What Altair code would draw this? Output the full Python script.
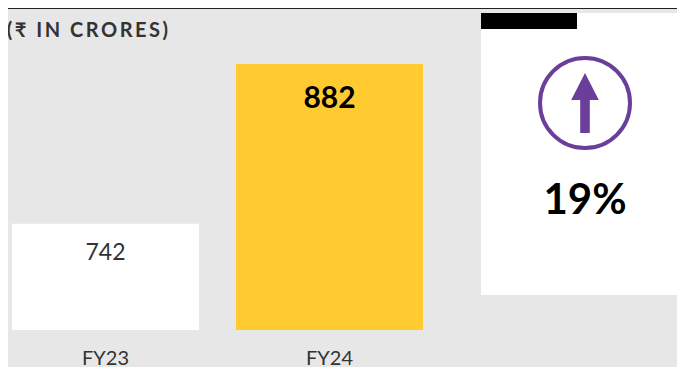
import altair as alt
import pandas as pd

years = ["FY23", "FY24"]
revenue = [742, 882]
bar_colors = ["#ffffff", "#ffcb31"]
value_colors = ["#333333", "#000000"]
heading = ["(\u2009₹\u2009 \u2009I\u2009N\u2009 \u2009C\u2009R\u2009O\u2009R\u2009E\u2009S\u2009)"]
growth = ["19%"]

FONT = "Lato"
base = 649
W = 669
H = 359

df = pd.DataFrame({"year": years, "revenue": revenue, "base": [base] * 2, "color": bar_colors})
xs = alt.Scale(domain=years, range=[-14.5, 433.5], paddingInner=37 / 224, paddingOuter=37 / 448)
ys = alt.Scale(domain=[base, 882 + (882 - base) * 56 / 266], range=[322, 0])
X = alt.X("year:N", scale=xs, axis=None)
Y = alt.Y("revenue:Q", scale=ys, axis=None)

rule = alt.Chart(pd.DataFrame({"a": [0]})).mark_rule(color="#222222", strokeWidth=1).encode(
    x=alt.value(0), x2=alt.value(W), y=alt.value(0.5))

bars = alt.Chart(df).mark_bar().encode(x=X, y=Y, y2="base:Q", color=alt.Color("color:N", scale=None))

label_23 = alt.Chart(df[df.year == "FY23"]).mark_text(font=FONT, fontSize=23, color=value_colors[0], fontWeight="normal", baseline="middle").encode(
    x=X, y=alt.value(245), text="revenue:Q")
label_24 = alt.Chart(df[df.year == "FY24"]).mark_text(font=FONT, fontSize=30, color=value_colors[1], fontWeight="bold", baseline="middle").encode(
    x=X, y=alt.value(91), text="revenue:Q")
cats = alt.Chart(df).mark_text(font=FONT, fontSize=20, color="#333333", baseline="middle").encode(
    x=X, y=alt.value(351), text="year:N")

title = alt.Chart(pd.DataFrame({"t": heading})).mark_text(font=FONT, fontSize=20, fontWeight="bold", color="#333333", align="right", baseline="middle").encode(
    x=alt.value(160), y=alt.value(23), text="t:N")

panel = alt.Chart(pd.DataFrame({"a": [0]})).mark_rect(color="#ffffff").encode(
    x=alt.value(473), x2=alt.value(W), y=alt.value(5), y2=alt.value(287))
tag = alt.Chart(pd.DataFrame({"a": [0]})).mark_rect(color="#000000").encode(
    x=alt.value(473), x2=alt.value(569), y=alt.value(5), y2=alt.value(21))
ring = alt.Chart(pd.DataFrame({"a": [0]})).mark_point(shape="circle", size=8100, filled=False, stroke="#6b3f99", strokeWidth=4, opacity=1).encode(
    x=alt.value(577), y=alt.value(95))
ARROW = "M0,-1 L0.46,-0.1 L0.16,-0.1 L0.16,1 L-0.16,1 L-0.16,-0.1 L-0.46,-0.1 Z"
arrow = alt.Chart(pd.DataFrame({"a": [0]})).mark_point(shape=ARROW, size=3600, filled=True, fill="#6b3f99", strokeWidth=0, opacity=1).encode(
    x=alt.value(577), y=alt.value(95))
pct = alt.Chart(pd.DataFrame({"t": growth})).mark_text(font=FONT, fontSize=42, fontWeight="bold", color="#000000", baseline="middle").encode(
    x=alt.value(577), y=alt.value(193), text="t:N")

chart = alt.layer(rule, bars, label_23, label_24, cats, title, panel, tag, ring, arrow, pct).properties(
    width=W, height=H, background="#e7e7e7", padding=0,
    autosize=alt.AutoSizeParams(type="none"),
).configure_view(stroke=None)

chart.save("out.html", embed_options={"renderer": "svg", "actions": False})
